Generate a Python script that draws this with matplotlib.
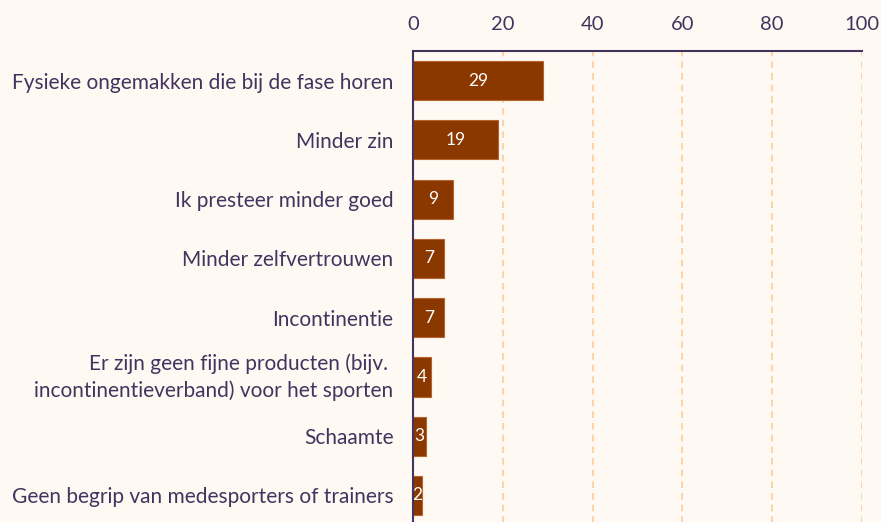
import matplotlib.pyplot as plt

# --- data ---
categories = [
    "Fysieke ongemakken die bij de fase horen",
    "Minder zin",
    "Ik presteer minder goed",
    "Minder zelfvertrouwen",
    "Incontinentie",
    "Er zijn geen fijne producten (bijv. \nincontinentieverband) voor het sporten",
    "Schaamte",
    "Geen begrip van medesporters of trainers",
]
values = [29, 19, 9, 7, 7, 4, 3, 2]
x_ticks = [0, 20, 40, 60, 80, 100]

# --- style ---
BG = "#FFF9F3"
BAR = "#8B3800"
TEXT = "#45335F"
GRID = "#FFCC99"

plt.rcParams['font.family'] = ['Lato', 'DejaVu Sans']

fig = plt.figure(figsize=(8.81, 5.22), dpi=100, facecolor=BG)
ax = fig.add_axes([413 / 881, -0.006, 449 / 881, 1 - 51 / 522 + 0.006])
ax.set_facecolor(BG)

y = list(range(len(categories)))
ax.barh(y, values, height=0.66, color=BAR, edgecolor="#B5642E", linewidth=0.8, zorder=3)

for yi, v in zip(y, values):
    ax.text(v / 2, yi, str(v), ha='center', va='center', color='white', fontsize=12.5, zorder=4)

ax.set_xlim(0, 100)
ax.set_ylim(len(categories) - 0.5, -0.5)
ax.set_yticks(y)
ax.set_yticklabels(categories, fontsize=15, color=TEXT)
ax.tick_params(axis='y', length=0, pad=14)
for lbl in ax.get_yticklabels():
    if "\n" in lbl.get_text():
        lbl.set_linespacing(1.4)
        lbl.set_va('center')

ax.xaxis.tick_top()
ax.set_xticks(x_ticks)
ax.set_xticklabels([str(t) for t in x_ticks], fontsize=14.5, color=TEXT)
ax.tick_params(axis='x', length=0, pad=13)

ax.grid(axis='x', color=GRID, linestyle=(0, (4, 3)), linewidth=1.2, zorder=1)
ax.grid(axis='y', visible=False)

for s in ['right', 'bottom']:
    ax.spines[s].set_visible(False)
for s in ['top', 'left']:
    ax.spines[s].set_color(TEXT)
    ax.spines[s].set_linewidth(1.5)
    ax.spines[s].set_zorder(5)

fig.savefig("out.png", dpi=100, facecolor=BG)
